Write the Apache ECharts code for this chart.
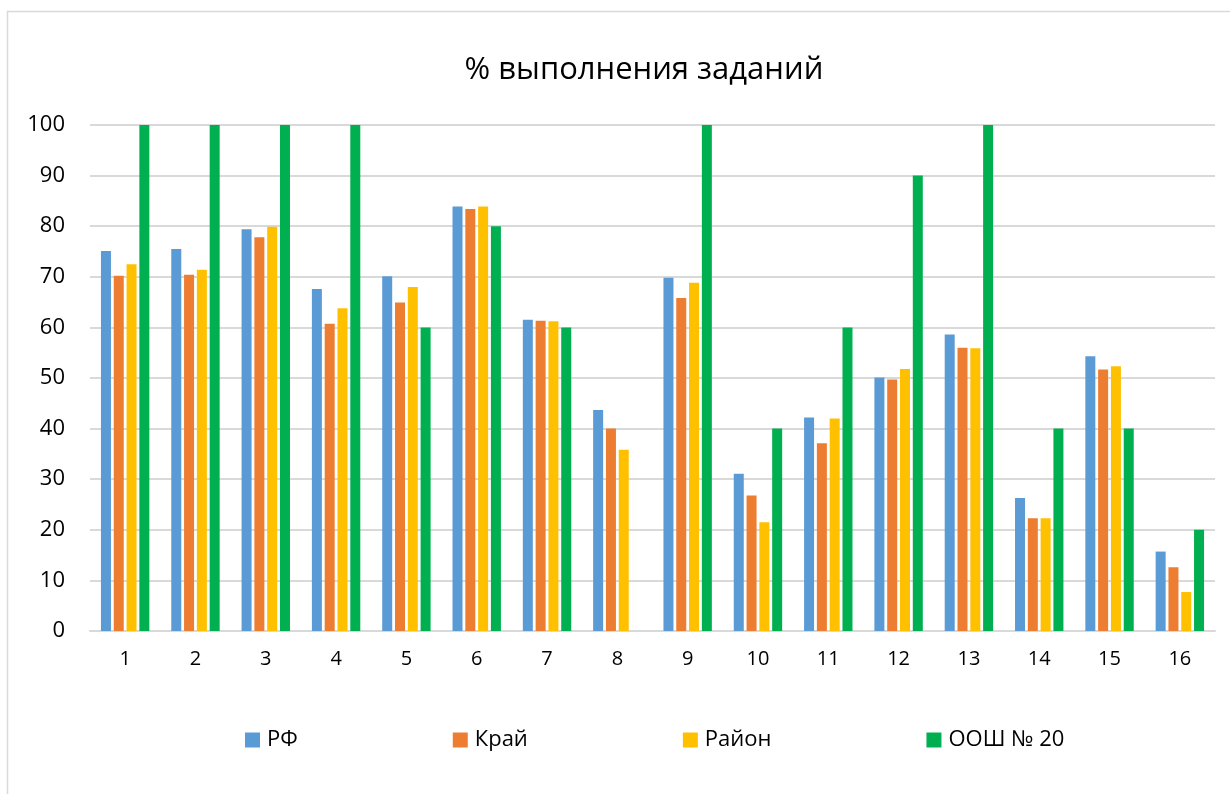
<!DOCTYPE html>
<html>
<head>
<meta charset="utf-8">
<script src="https://cdn.jsdelivr.net/npm/echarts@6/dist/echarts.min.js"></script>
<style>
  html, body { margin: 0; padding: 0; background: #fff; }
  #chart { width: 1230px; height: 794px; }
</style>
</head>
<body>
<div id="chart"></div>
<script>
var categories = ['1','2','3','4','5','6','7','8','9','10','11','12','13','14','15','16'];
var rf     = [75.1, 75.5, 79.4, 67.6, 70.1, 83.9, 61.5, 43.7, 69.8, 31.1, 42.2, 50.1, 58.6, 26.3, 54.3, 15.7];
var krai   = [70.2, 70.4, 77.8, 60.7, 64.9, 83.4, 61.3, 40.0, 65.8, 26.8, 37.1, 49.7, 56.0, 22.3, 51.7, 12.6];
var raion  = [72.5, 71.4, 79.9, 63.8, 68.0, 83.9, 61.2, 35.8, 68.8, 21.5, 42.0, 51.8, 55.9, 22.3, 52.3, 7.7];
var school = [100, 100, 100, 100, 60, 80, 60, 0, 100, 40, 60, 90, 100, 40, 40, 20];

var font = '"Open Sans", "Noto Sans", sans-serif';

function bar(name, data, color) {
  return {
    name: name,
    type: 'bar',
    data: data,
    barWidth: 10,
    barGap: '28%',
    itemStyle: { color: color },
    emphasis: { disabled: true }
  };
}

var myChart = echarts.init(document.getElementById('chart'));
var option = {
  animation: false,
  backgroundColor: '#fff',
  textStyle: { fontFamily: font },
  graphic: [{
    type: 'rect',
    shape: { x: 7.5, y: 11.5, width: 1240, height: 800 },
    style: { fill: 'none', stroke: '#d9d9d9', lineWidth: 1.5 }
  }],
  title: {
    text: '% выполнения заданий',
    left: 639,
    textAlign: 'center',
    top: 50,
    textStyle: { fontFamily: font, fontSize: 31, fontWeight: 'normal', color: '#000' }
  },
  legend: {
    top: 724,
    left: 240,
    itemWidth: 15,
    itemHeight: 15,
    itemGap: 155,
    icon: 'rect',
    textStyle: { fontFamily: font, fontSize: 22, color: '#000', padding: [0, 0, 0, 2] },
    data: ['РФ', 'Край', 'Район', 'ООШ № 20']
  },
  grid: { left: 90, right: 15, top: 125, bottom: 163 },
  xAxis: {
    type: 'category',
    data: categories,
    axisTick: { show: false },
    axisLine: { lineStyle: { color: '#d9d9d9', width: 2 } },
    axisLabel: { color: '#000', fontSize: 20, margin: 18, fontFamily: font }
  },
  yAxis: {
    type: 'value',
    min: 0,
    max: 100,
    interval: 10,
    axisLine: { show: false },
    axisTick: { show: false },
    axisLabel: { color: '#000', fontSize: 22, margin: 25, fontFamily: font },
    splitLine: { lineStyle: { color: '#d9d9d9', width: 2 } }
  },
  series: [
    bar('РФ', rf, '#5b9bd5'),
    bar('Край', krai, '#ed7d31'),
    bar('Район', raion, '#ffc000'),
    bar('ООШ № 20', school, '#00b050')
  ]
};
myChart.setOption(option);
</script>
</body>
</html>
